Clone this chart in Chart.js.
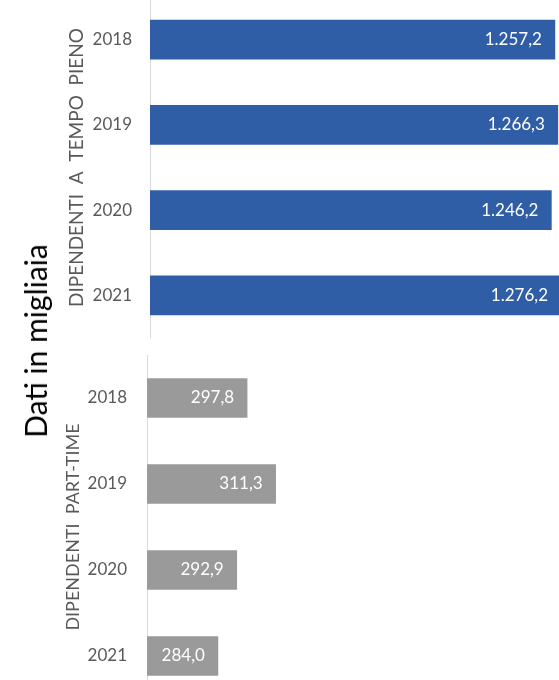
<!DOCTYPE html>
<html lang="it">
<head>
<meta charset="utf-8">
<script src="https://cdn.jsdelivr.net/npm/chart.js@4"></script>
<style>
    html, body { margin: 0; padding: 0; background: #fff; }
    body { width: 559px; height: 680px; overflow: hidden; position: relative; }
    .box { position: absolute; left: 0; }
    #boxPieno { top: -3px; width: 602px; height: 341px; }
    #boxPart { top: 355px; width: 570px; height: 344px; }
    #unita {
        position: absolute; left: 35px; top: 341px;
        transform: translate(-50%, -50%) rotate(-90deg);
        white-space: nowrap; font-family: Lato, sans-serif; font-size: 30px; color: #000;
    }
</style>
</head>
<body>
<div class="box" id="boxPieno"><canvas id="chartPieno"></canvas></div>
<div class="box" id="boxPart"><canvas id="chartPart"></canvas></div>
<div id="unita">Dati in migliaia</div>
<script>
const anni = ['2018', '2019', '2020', '2021'];
const tempoPieno = [1257.2, 1266.3, 1246.2, 1276.2];
const partTime = [297.8, 311.3, 292.9, 284.0];

function formatta(v) {
    const parti = v.toFixed(1).split('.');
    const intero = parti[0].replace(/\B(?=(\d{3})+(?!\d))/g, '.');
    return intero + ',' + parti[1];
}

// etichette bianche dentro la fine della barra
const etichette = {
    id: 'etichette',
    afterDatasetsDraw(chart) {
        const ctx = chart.ctx;
        const meta = chart.getDatasetMeta(0);
        const dati = chart.data.datasets[0].data;
        ctx.save();
        ctx.fillStyle = '#ffffff';
        ctx.font = '17px Lato';
        ctx.textAlign = 'right';
        ctx.textBaseline = 'middle';
        meta.data.forEach((bar, i) => {
            ctx.fillText(formatta(dati[i]), bar.x - 14, bar.y);
        });
        ctx.restore();
    }
};

function creaGrafico(id, valori, colore, titolo, dimTitolo, minX, maxX, larghezzaAsse, padTitolo, padTick) {
    return new Chart(document.getElementById(id), {
        type: 'bar',
        data: {
            labels: anni,
            datasets: [{
                data: valori,
                backgroundColor: colore,
                borderColor: 'rgba(255,255,255,0.3)',
                borderWidth: 1,
                barThickness: 41
            }]
        },
        options: {
            indexAxis: 'y',
            responsive: true,
            maintainAspectRatio: false,
            animation: false,
            layout: { padding: 0 },
            plugins: {
                legend: { display: false },
                tooltip: { enabled: false }
            },
            scales: {
                x: { display: false, min: minX, max: maxX },
                y: {
                    grid: { display: false, drawTicks: false },
                    border: { display: true, color: '#d9d9d9', width: 1 },
                    ticks: {
                        color: '#595959',
                        font: { family: 'Lato', size: 17 },
                        padding: padTick
                    },
                    title: {
                        display: true,
                        text: titolo,
                        color: '#595959',
                        font: { family: 'Lato', size: dimTitolo },
                        padding: { top: padTitolo, bottom: 0 }
                    },
                    afterFit: (scala) => {
                        scala.width = larghezzaAsse;
                        scala.paddingTop = 0;
                        scala.paddingBottom = 0;
                    }
                }
            }
        },
        plugins: [etichette]
    });
}

creaGrafico('chartPieno', tempoPieno, '#2F5EA6', 'DIPENDENTI  A  TEMPO  PIENO', 19, 0, 1400, 150, 65, 18);
creaGrafico('chartPart', partTime, '#9A9A9A', 'DIPENDENTI  PART-TIME', 18, 250, 450, 147, 62, 20);
</script>
</body>
</html>
